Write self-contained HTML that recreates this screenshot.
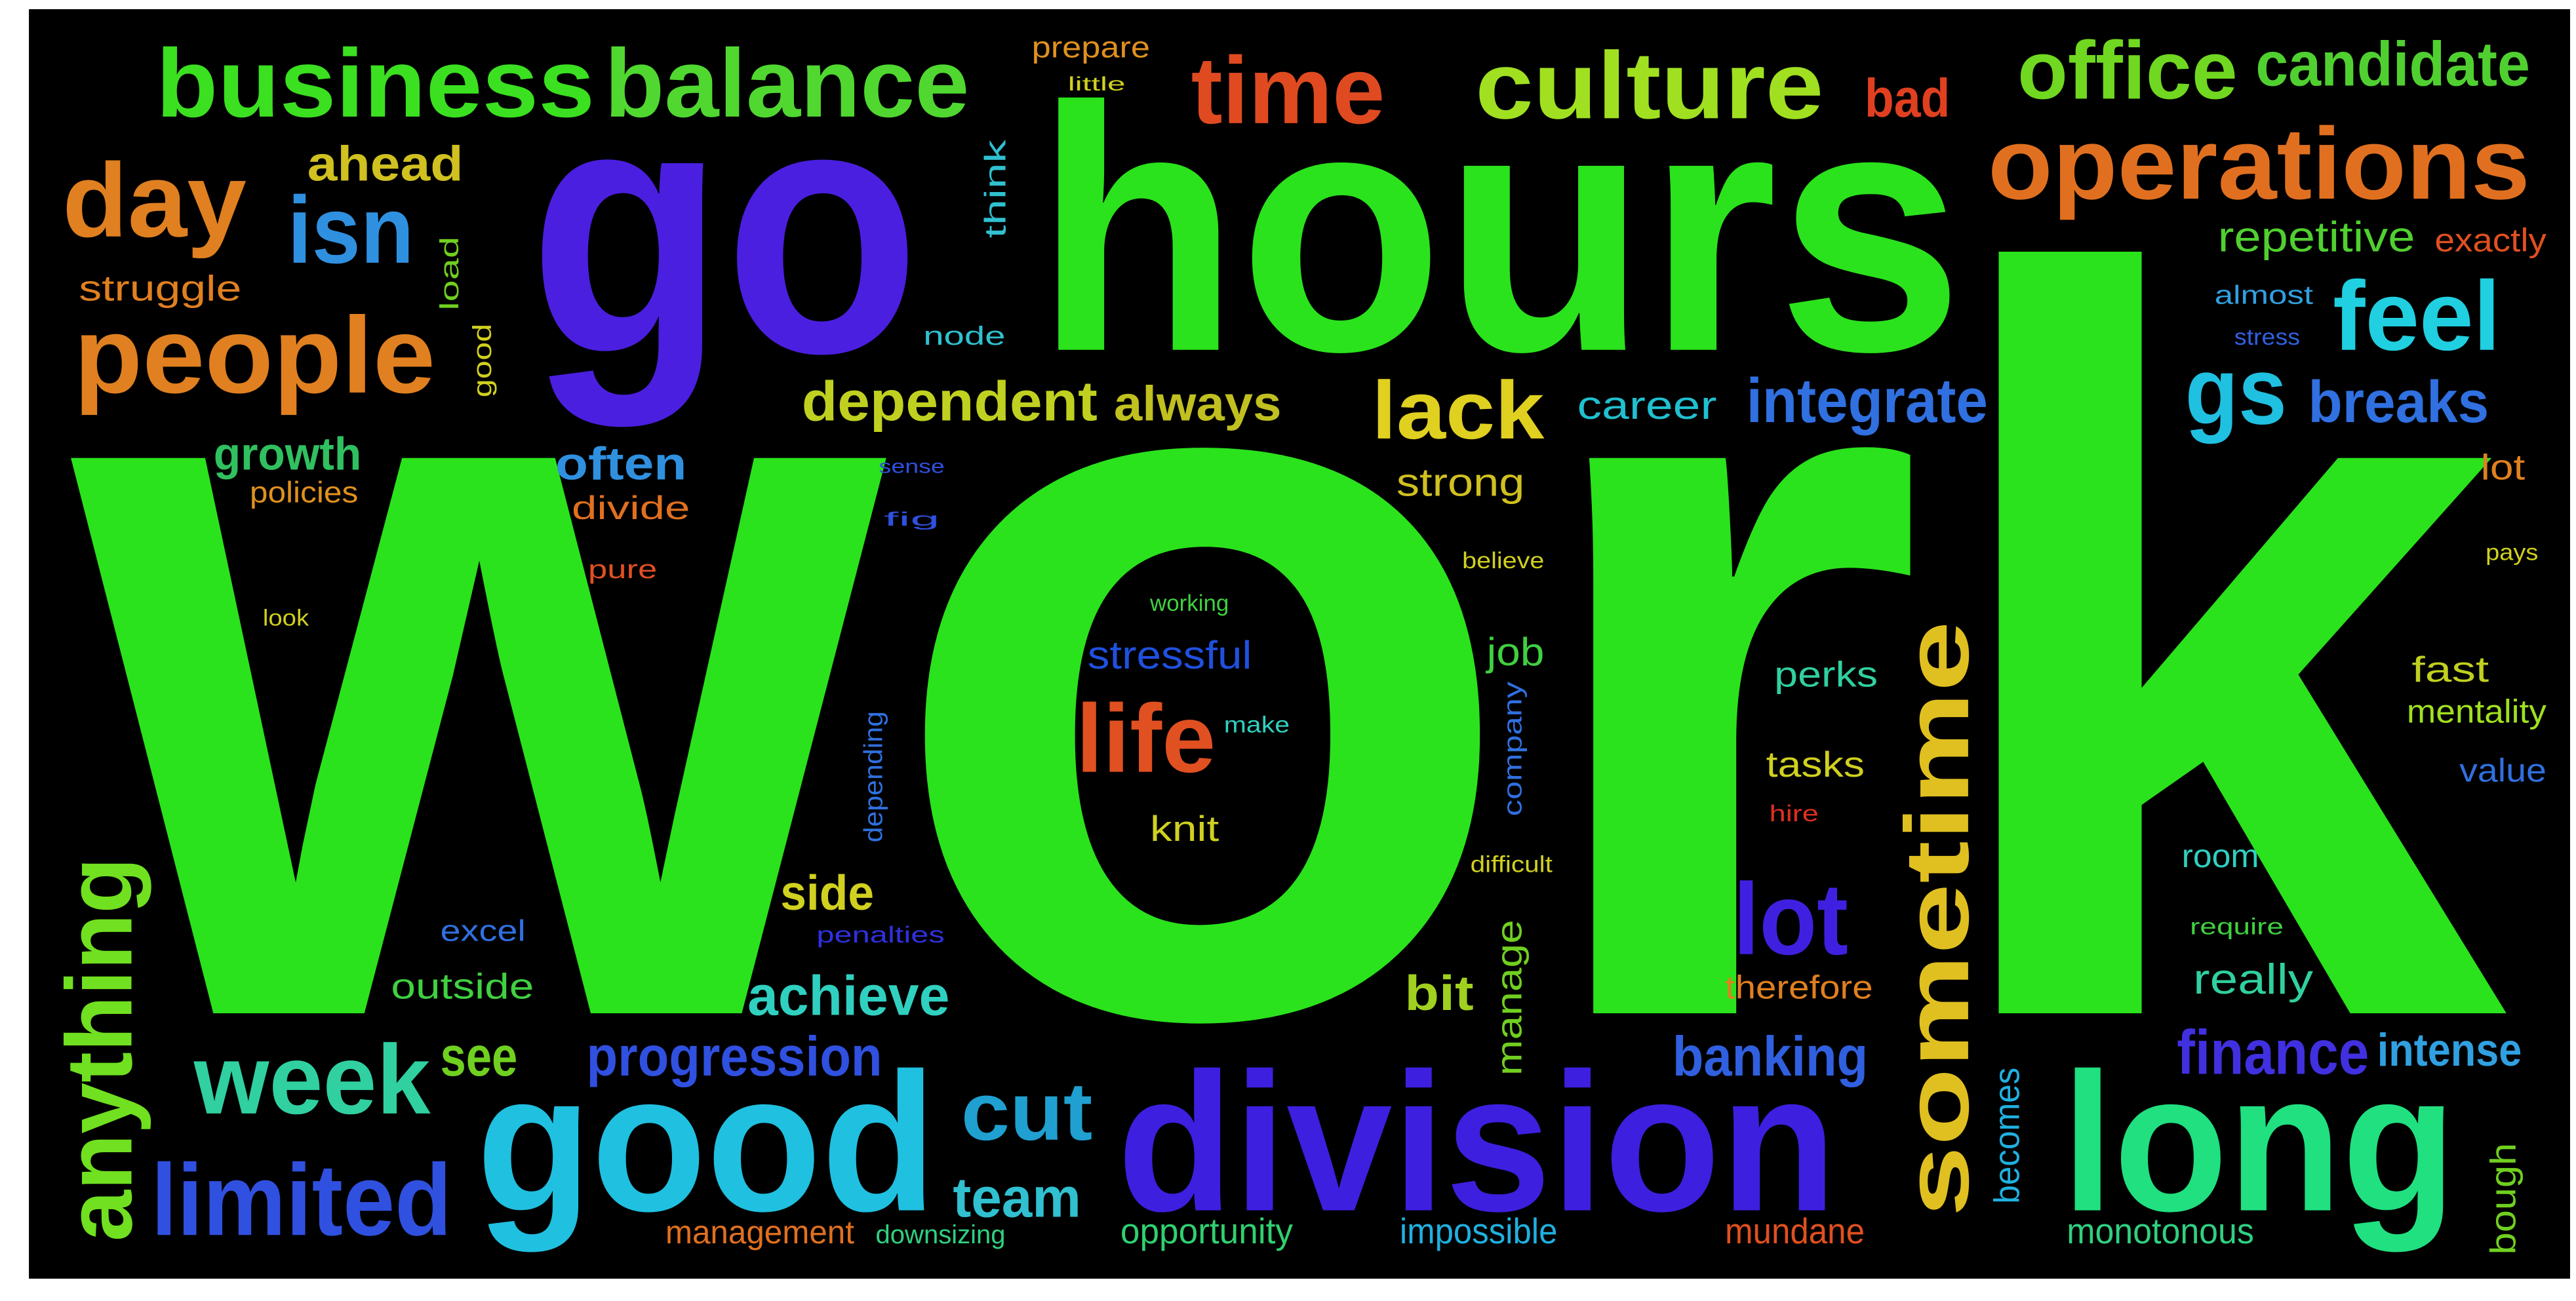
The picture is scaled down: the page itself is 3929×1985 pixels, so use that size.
<!DOCTYPE html>
<html><head><meta charset="utf-8"><style>
html,body{margin:0;padding:0;background:#fff;}
svg{display:block;}
text{font-family:"Liberation Sans",sans-serif;}
</style></head><body>
<svg id="cloud" width="3929" height="1985" viewBox="0 0 1568 792.2" preserveAspectRatio="none" xmlns="http://www.w3.org/2000/svg">
<rect x="17.6" y="5.6" width="1546.8" height="773" fill="#000"/>
<g id="words"></g>
</svg>
<script>
const words = ["work","go","hours","business","balance","time","culture","office","candidate","prepare","bad","ahead","operations","day","isn","struggle","repetitive","exactly","feel","people","gs","lack","dependent","always","integrate","career","breaks","growth","policies","often","divide","strong","lot","pure","life","stressful","job","perks","fast","mentality","value","tasks","knit","room","side","achieve","bit","really","therefore","outside","excel","week","see","progression","banking","finance","intense","good","cut","division","long","limited","team","management","downsizing","opportunity","impossible","mundane","monotonous","node","almost","stress","look","little","working","believe","pays","make","hire","difficult","require","penalties","sense","fig","lot","sometime","anything","manage","becomes","bough","think","company","depending","load","good"];
const xs = [45,322,630,95,368,725,898,1228,1373,628,1135,187,1210,38,175,48,1350,1482,1420,45,1330,835,488,678,1063,960,1405,130,152,338,348,850,1510,358,655,662,905,1080,1468,1465,1497,1075,700,1328,475,455,855,1335,1050,238,268,118,268,357,1018,1325,1447,290,585,680,1255,92,580,405,533,682,852,1050,1258,562,1348,1360,160,650,700,890,1513,745,1077,895,1333,497,535,538,1055,1198,80,926,1229,1531,612,926,537,279,299];
const ys = [617,214,213,71,71,75,72,60,52,35,71,110,121,144,160,183,153,153,213,239,258,267,256,256,257,255,257,286,306,292,316,302,292,352,470,407,405,418,415,440,476,473,512,528,554,618,615,605,608,608,573,678,655,655,655,654,649,737,694,737,737,752,741,757,757,757,757,757,757,210,185,210,381,55,372,346,341,446,500,531,569,574,288,320,581,741,756,655,733,764,145,497,513,189,242];
const sizes = [640,217,212,59,59,58,58,50,38,18,33,30,62,64,58,22,26,20,60,66,58,50,34,30,38,24,36,28,18,28,20,24,22,16,59,24,24,22,22,20,20,22,22,20,30,34,30,26,20,22,18,60,34,34,34,38,28,120,50,120,120,62,34,20,16,22,22,22,22,16,16,14,14,12,14,14,14,14,14,14,14,14,12,12,62,55,57,22,22,22,18,16,16,16,16];
const lens = [1480,238,565,267,222,118,212,134,167,72,52,95,330,112,77,99,120,68,102,220,62,105,180,102,147,85,110,90,66,80,72,78,27,42,85,100,35,63,47,85,53,60,42,47,57,123,42,73,90,87,52,144,47,180,119,117,88,280,80,438,240,183,78,115,79,105,96,85,114,50,60,40,28,35,48,50,32,40,30,50,57,78,40,34,70,363,234,95,83,68,60,82,80,45,45];
const colors = ["#2ae31c","#4a1fe0","#2ae31c","#3be020","#50d830","#e04a20","#a0e020","#70d820","#50d030","#e09020","#e04020","#d0c020","#e07020","#e08020","#3090e0","#e08020","#50d030","#e05020","#20d0e0","#e08020","#20c0e0","#e0d020","#c0d020","#c0c020","#3070e0","#20c0d0","#3070e0","#30c060","#e09020","#3090e0","#e07020","#d0c020","#e08020","#e05020","#e05020","#2050e0","#40d040","#30d0a0","#c0d020","#a0e020","#3070e0","#d0d020","#d0d020","#30d0c0","#d0d020","#30d0c0","#a0d020","#30d0a0","#e08020","#40d040","#3070e0","#30d0a0","#70d020","#3050e0","#3060e0","#4030e0","#30a0e0","#20c0e0","#20a0d0","#3d1fe0","#20e080","#3050e0","#30c0d0","#e07020","#30d080","#30d070","#20b0e0","#e05020","#30d080","#30c0d0","#30a0e0","#3060e0","#d0d020","#d0d020","#40d040","#d0d020","#d0d020","#30d0c0","#e03020","#d0d020","#40d040","#3030e0","#3050e0","#3050e0","#4020e0","#e0c020","#70e020","#70d020","#20b0e0","#70d020","#30c0d0","#3070e0","#3070e0","#70d020","#d0d020"];
const rot = [0,0,0,0,0,0,0,0,0,0,0,0,0,0,0,0,0,0,0,0,0,0,0,0,0,0,0,0,0,0,0,0,0,0,0,0,0,0,0,0,0,0,0,0,0,0,0,0,0,0,0,0,0,0,0,0,0,0,0,0,0,0,0,0,0,0,0,0,0,0,0,0,0,0,0,0,0,0,0,0,0,0,0,0,0,1,1,1,1,1,1,1,1,1,1];
const g = document.getElementById('words');
const NS = "http://www.w3.org/2000/svg";
for (let i = 0; i < words.length; i++) {
  const t = document.createElementNS(NS, 'text');
  
  
  t.setAttribute('x', xs[i]);
  t.setAttribute('y', ys[i]);
  t.setAttribute('font-size', sizes[i]);
  t.setAttribute('font-weight', sizes[i] >= 28 ? 'bold' : 'normal');
  t.setAttribute('fill', colors[i]);
  t.setAttribute('textLength', lens[i]);
  t.setAttribute('lengthAdjust', 'spacingAndGlyphs');
  if (rot[i]) t.setAttribute('transform', 'rotate(-90 ' + xs[i] + ' ' + ys[i] + ')');
  t.textContent = words[i];
  g.appendChild(t);
}
</script>
</body></html>
